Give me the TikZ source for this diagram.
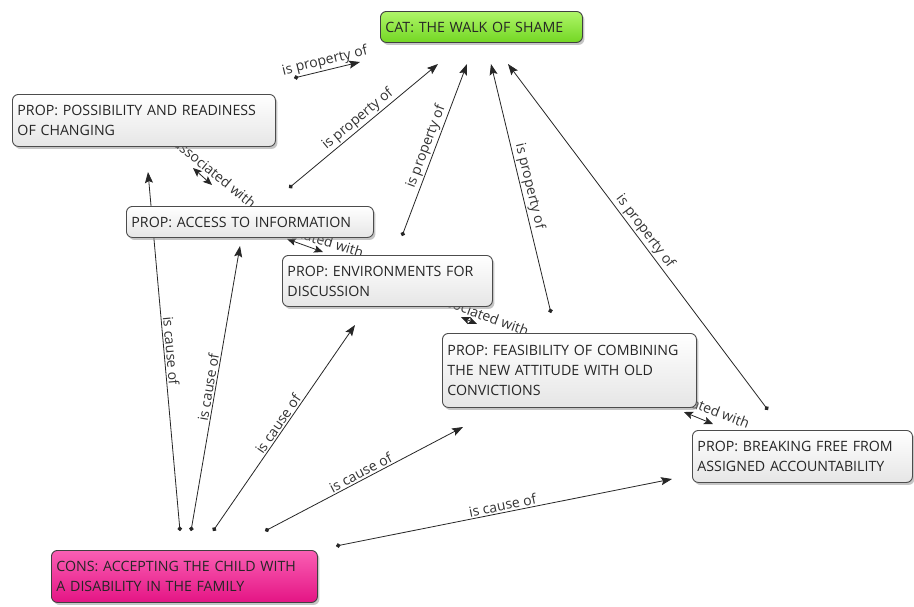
\documentclass[tikz,border=0pt]{standalone}
\usepackage{fontspec}
\setmainfont{Open Sans}
\usetikzlibrary{shadows,arrows.meta}
\definecolor{cattop}{RGB}{175,245,105}
\definecolor{catbot}{RGB}{115,215,35}
\definecolor{constop}{RGB}{250,95,180}
\definecolor{consbot}{RGB}{228,20,132}
\begin{document}
\begin{tikzpicture}[x=1pt,y=-1pt,
  box/.style={draw=black!70, line width=0.9pt, rounded corners=6pt, anchor=north west,
    align=left, inner xsep=5pt, inner ysep=3pt, font=\fontsize{14.2}{20}\selectfont, text=black!85,
    top color=white, bottom color=black!10,
    drop shadow={opacity=0.45,shadow xshift=2pt,shadow yshift=-2.5pt}},
  catbox/.style={box, top color=cattop, bottom color=catbot, draw=black!75},
  consbox/.style={box, top color=constop, bottom color=consbot, draw=black!75},
  rel/.style={draw=black!85, line width=0.8pt, {Circle[length=4.5pt]}-{Stealth[length=11pt,width=8pt,inset=2pt]}},
  assoc/.style={draw=black!85, line width=0.8pt, {Stealth[length=9pt,width=7.5pt,inset=2pt]}-{Stealth[length=9pt,width=7.5pt,inset=2pt]}},
  lab/.style={font=\fontsize{14}{15}\selectfont, text=black!80, inner sep=1.5pt}
]
\useasboundingbox (0,0) rectangle (914,606);
\fill[white] (0,0) rectangle (914,606);

% free ends of connectors
\coordinate (p1s) at (294,78);  \coordinate (p1e) at (360,62);
\coordinate (p2s) at (289,188); \coordinate (p2e) at (438,64);
\coordinate (p3s) at (402,236); \coordinate (p3e) at (467,64);
\coordinate (p4s) at (551,313); \coordinate (p4e) at (491,64);
\coordinate (p5s) at (768,410); \coordinate (p5e) at (508,64);
\coordinate (c1s) at (180,531); \coordinate (c1e) at (148,172);
\coordinate (c2s) at (191,531); \coordinate (c2e) at (240,246);
\coordinate (c3s) at (213,531); \coordinate (c3e) at (355,325);
\coordinate (c4s) at (265,531); \coordinate (c4e) at (463,427);
\coordinate (c5s) at (336,546); \coordinate (c5e) at (672,479);
\coordinate (a1s) at (193,168); \coordinate (a1e) at (212,185);
\coordinate (a2s) at (287,239); \coordinate (a2e) at (323,252);
\coordinate (a3s) at (461,317); \coordinate (a3e) at (477,324);
\coordinate (a4s) at (684,412); \coordinate (a4e) at (713,424);

% is property of
\draw[rel] (p1s) -- node[lab, sloped, above] {is property of} (p1e);
\draw[rel] (p2s) -- node[lab, sloped, above] {is property of} (p2e);
\draw[rel] (p3s) -- node[lab, sloped, above] {is property of} (p3e);
\draw[rel] (p4s) -- node[lab, sloped, above] {is property of} (p4e);
\draw[rel] (p5s) -- node[lab, sloped, above] {is property of} (p5e);
% is cause of
\draw[rel] (c1s) -- node[lab, sloped, above] {is cause of} (c1e);
\draw[rel] (c2s) -- node[lab, sloped, above] {is cause of} (c2e);
\draw[rel] (c3s) -- node[lab, sloped, above] {is cause of} (c3e);
\draw[rel] (c4s) -- node[lab, sloped, above] {is cause of} (c4e);
\draw[rel] (c5s) -- node[lab, sloped, above] {is cause of} (c5e);
% associated with
\draw[assoc] (a1s) -- (a1e);
\draw[assoc] (a2s) -- (a2e);
\draw[assoc] (a3s) -- (a3e);
\draw[assoc] (a4s) -- (a4e);
\node[lab, rotate=-39] (la1) at (215,173) {associated with};
\node[lab, rotate=-17] (la2) at (315,238) {associated with};
\node[lab, rotate=-20] (la3) at (481,314) {associated with};
\node[lab, rotate=-21] (la4) at (702,406) {associated with};

% concepts
\node[catbox, text width=192pt, minimum height=31pt] (cat) at (380,11) {CAT: THE WALK OF SHAME};
\node[box, text width=253pt, minimum height=52pt] (poss) at (12,94) {PROP: POSSIBILITY AND READINESS\\OF CHANGING};
\node[box, text width=237pt, minimum height=31pt] (access) at (126,206) {PROP: ACCESS TO INFORMATION};
\node[box, text width=200pt, minimum height=51pt] (env) at (282,255) {PROP: ENVIRONMENTS FOR\\DISCUSSION};
\node[box, text width=244pt, minimum height=74pt] (feas) at (442,333) {PROP: FEASIBILITY OF COMBINING\\THE NEW ATTITUDE WITH OLD\\CONVICTIONS};
\node[box, text width=210pt, minimum height=52pt] (break) at (692,430) {PROP: BREAKING FREE FROM\\ASSIGNED ACCOUNTABILITY};
\node[consbox, text width=256pt, minimum height=52pt] (cons) at (51,550) {CONS: ACCEPTING THE CHILD WITH\\A DISABILITY IN THE FAMILY};
\end{tikzpicture}
\end{document}
